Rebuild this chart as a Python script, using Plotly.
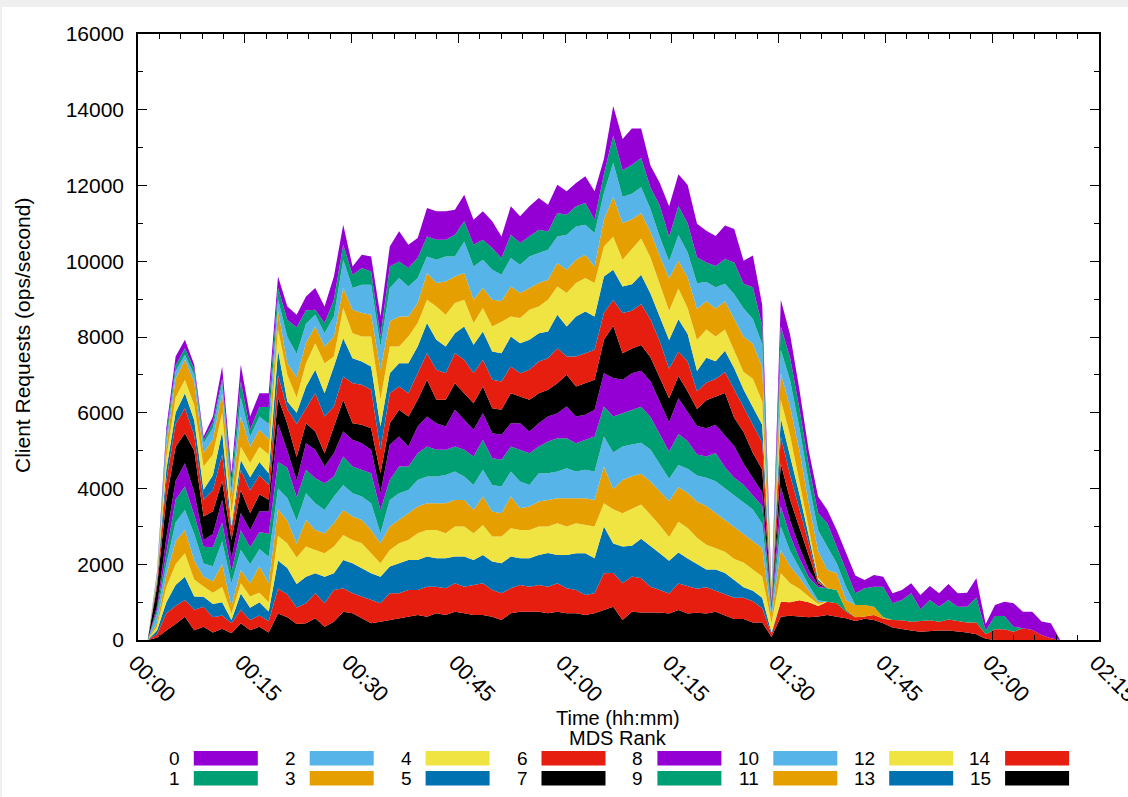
import plotly.graph_objects as go

# sample times (minutes since 00:00)
minutes = [1.36, 2.67, 3.98, 5.28, 6.59, 7.90, 9.21, 10.52, 11.82, 13.13,
           14.44, 15.75, 17.06, 18.36, 19.67, 20.98, 22.29, 23.60, 24.90, 26.21,
           27.52, 28.83, 30.14, 31.44, 32.75, 34.06, 35.37, 36.68, 37.98, 39.29,
           40.60, 41.91, 43.22, 44.52, 45.83, 47.14, 48.45, 49.76, 51.06, 52.37,
           53.68, 54.99, 56.30, 57.60, 58.91, 60.22, 61.53, 62.84, 64.14, 65.45,
           66.76, 68.07, 69.38, 70.68, 71.99, 73.30, 74.61, 75.92, 77.22, 78.53,
           79.84, 81.15, 82.46, 83.76, 85.07, 86.38, 87.69, 89.00, 90.30, 91.61,
           92.92, 94.23, 95.54, 96.84, 98.15, 99.46, 100.77, 102.08, 103.38, 104.69,
           106.00, 107.31, 108.62, 109.92, 111.23, 112.54, 113.85, 115.16, 116.46, 117.77,
           119.08, 120.39, 121.70, 123.00, 124.31, 125.62, 126.93, 128.24, 129.54]

# stacked level (ops/s) reached at the top of each MDS rank band: ranks 15..r summed
stack_top_rank15 = [0, 60, 250, 420, 616, 260, 350, 200, 300, 180,
                    440, 260, 350, 200, 700, 600, 420, 440, 572, 352,
                    484, 749, 705, 572, 440, 484, 528, 572, 616, 661,
                    616, 705, 661, 749, 705, 661, 661, 616, 528, 705,
                    749, 749, 749, 705, 749, 705, 705, 661, 705, 793,
                    880, 528, 746, 724, 724, 724, 700, 790, 700, 720,
                    697, 743, 650, 557, 557, 464, 464, 80, 616, 640,
                    620, 600, 620, 660, 616, 572, 500, 560, 528, 440,
                    330, 300, 250, 220, 240, 250, 250, 230, 200, 150,
                    30, 0, 0, 0, 0, 0, 0, 0, 0]
stack_top_rank14 = [0, 150, 700, 900, 1057, 800, 880, 600, 650, 440,
                    790, 530, 650, 500, 1350, 1200, 860, 969, 1233, 969,
                    1321, 1365, 1233, 1145, 1057, 969, 1233, 1233, 1321, 1321,
                    1409, 1409, 1365, 1497, 1409, 1453, 1497, 1321, 1233, 1365,
                    1453, 1409, 1453, 1409, 1497, 1365, 1321, 1189, 1233, 1761,
                    1770, 1497, 1674, 1632, 1405, 1317, 1230, 1490, 1420, 1350,
                    1396, 1303, 1209, 1116, 1116, 1023, 836, 150, 1013, 1000,
                    1050, 1000, 900, 1013, 969, 750, 600, 620, 660, 560,
                    530, 520, 480, 500, 520, 480, 540, 500, 460, 460,
                    150, 282, 282, 220, 308, 264, 132, 44, 0]
stack_top_rank13 = [0, 250, 1000, 1450, 1673, 1150, 1145, 950, 1000, 530,
                    1230, 850, 1000, 750, 2100, 1900, 1480, 1673, 1761, 1673,
                    1761, 2114, 2026, 1894, 1761, 1673, 1938, 2026, 2114, 2114,
                    2202, 2158, 2158, 2202, 2202, 2114, 2246, 2070, 2026, 2202,
                    2158, 2158, 2246, 2300, 2246, 2246, 2290, 2290, 2158, 2994,
                    2550, 2466, 2487, 2671, 2490, 2288, 2090, 2310, 2150, 2000,
                    1861, 1861, 1768, 1582, 1396, 1303, 1116, 200, 1013, 1000,
                    1050, 1000, 900, 1013, 969, 750, 600, 620, 660, 560,
                    530, 520, 480, 500, 520, 480, 540, 500, 460, 460,
                    150, 282, 282, 220, 308, 264, 132, 44, 0]
stack_top_rank12 = [0, 350, 1400, 2000, 2290, 1600, 1410, 1250, 1400, 700,
                    1500, 1150, 1250, 1000, 2750, 2550, 2180, 2466, 2378, 2290,
                    2466, 2774, 2642, 2554, 2290, 2026, 2378, 2554, 2642, 2818,
                    2906, 2906, 2818, 2994, 2994, 2818, 3038, 2730, 2730, 2950,
                    2906, 2906, 2994, 2994, 3082, 2994, 3082, 3038, 2994, 3611,
                    3450, 3347, 3465, 3580, 3305, 3033, 2720, 3120, 2960, 2700,
                    2513, 2420, 2327, 2141, 2048, 1861, 1675, 450, 1761, 1500,
                    1350, 1150, 950, 1013, 969, 750, 600, 620, 660, 560,
                    530, 520, 480, 500, 520, 480, 540, 500, 460, 460,
                    150, 282, 282, 220, 308, 264, 132, 44, 0]
stack_top_rank11 = [0, 450, 1700, 2600, 2906, 2100, 1670, 1550, 2000, 900,
                    1850, 1500, 1950, 1500, 3450, 3150, 2540, 3171, 2906, 2818,
                    3082, 3435, 3259, 3171, 2906, 2554, 2994, 3171, 3347, 3523,
                    3611, 3611, 3611, 3699, 3699, 3435, 3787, 3391, 3347, 3787,
                    3479, 3523, 3655, 3699, 3743, 3743, 3743, 3743, 3699, 4580,
                    3980, 4227, 4324, 4392, 4186, 3936, 3670, 4030, 3880, 3650,
                    3538, 3352, 3166, 2979, 2793, 2607, 2420, 600, 2378, 1950,
                    1650, 1300, 1000, 1013, 969, 750, 600, 620, 660, 560,
                    530, 520, 480, 500, 520, 480, 540, 500, 460, 460,
                    150, 282, 282, 220, 308, 264, 132, 44, 0]
stack_top_rank10 = [0, 700, 2000, 3100, 3435, 2800, 2020, 1950, 2600, 1500,
                    2380, 2000, 2400, 2200, 4000, 3750, 3150, 3875, 3611, 3435,
                    3787, 4095, 3875, 3787, 3611, 2818, 3699, 3875, 3963, 4227,
                    4315, 4315, 4359, 4447, 4315, 4095, 4492, 4095, 4051, 4447,
                    4183, 4095, 4404, 4404, 4447, 4536, 4447, 4492, 4447, 5372,
                    4950, 5108, 5162, 5208, 5027, 4641, 4260, 4620, 4520, 4340,
                    4283, 4190, 4004, 3818, 3631, 3445, 3072, 750, 2994, 2350,
                    1900, 1450, 1050, 1013, 969, 750, 600, 620, 660, 560,
                    530, 520, 480, 500, 520, 480, 540, 500, 460, 460,
                    150, 282, 282, 220, 308, 264, 132, 44, 0]
stack_top_rank9 = [0, 800, 2300, 3700, 4051, 3300, 2460, 2450, 3100, 1800,
                   2900, 2450, 2850, 2800, 4700, 4550, 3770, 4492, 4271, 4139,
                   4315, 4844, 4580, 4492, 4404, 3435, 4227, 4580, 4580, 4932,
                   5108, 5020, 5020, 5108, 5020, 4844, 5284, 4800, 4756, 5108,
                   5020, 4932, 5108, 5240, 5328, 5328, 5196, 5284, 5372, 6165,
                   5900, 5989, 6068, 6161, 5886, 5433, 4980, 5440, 5250, 4900,
                   4842, 4936, 4563, 4283, 4097, 3818, 3538, 820, 3523, 2750,
                   2150, 1650, 1400, 1365, 1321, 793, 600, 620, 660, 560,
                   530, 520, 480, 500, 520, 480, 540, 500, 460, 460,
                   150, 282, 282, 220, 308, 264, 132, 44, 0]
stack_top_rank8 = [0, 900, 2700, 4200, 4668, 3900, 2640, 2800, 3700, 2150,
                   3350, 2900, 3400, 3400, 5700, 5000, 4210, 5196, 5020, 4580,
                   4932, 5504, 5284, 5196, 5020, 3875, 5152, 5372, 5108, 5636,
                   5901, 5725, 5636, 6077, 5813, 5548, 5989, 5460, 5416, 5725,
                   5725, 5504, 5725, 5901, 5989, 6165, 5901, 5945, 6077, 7046,
                   6920, 6869, 7040, 7106, 6834, 6290, 5750, 6380, 6030, 5650,
                   5588, 5681, 5402, 5122, 4656, 4283, 3900, 880, 4051, 3150,
                   2450, 1850, 1450, 1365, 1321, 793, 600, 620, 660, 560,
                   530, 520, 480, 500, 520, 480, 540, 500, 460, 460,
                   150, 282, 282, 220, 308, 264, 132, 44, 0]
stack_top_rank7 = [0, 1400, 3700, 5100, 5460, 5000, 3260, 3400, 4200, 2640,
                   3960, 3350, 3850, 3700, 6400, 5700, 4830, 5725, 5504, 4932,
                   5636, 6341, 5725, 5680, 5592, 4404, 5725, 6077, 5901, 6341,
                   6869, 6341, 6341, 6781, 6517, 6253, 6693, 6121, 6077, 6517,
                   6429, 6341, 6517, 6605, 6781, 7002, 6693, 6781, 6869, 7926,
                   8300, 7574, 7696, 7786, 7468, 6925, 6380, 6970, 6560, 6100,
                   6333, 6426, 6519, 5867, 5495, 4936, 4500, 950, 4668, 3700,
                   2950, 2250, 1500, 1365, 1321, 793, 600, 620, 660, 560,
                   530, 520, 480, 500, 520, 480, 540, 500, 460, 460,
                   150, 282, 282, 220, 308, 264, 132, 44, 0]
stack_top_rank6 = [0, 1500, 4200, 5700, 6121, 5400, 3700, 3950, 4900, 2900,
                   4490, 3950, 4350, 4100, 7000, 6100, 5700, 6121, 6517, 5901,
                   6165, 6958, 6781, 6737, 6605, 5020, 6517, 6693, 6517, 7046,
                   7574, 7134, 7046, 7574, 7398, 7046, 7398, 6869, 6825, 7222,
                   7046, 7134, 7354, 7442, 7706, 7486, 7486, 7574, 7662, 8631,
                   8980, 8631, 8690, 8874, 8468, 7880, 7160, 7610, 7350, 6560,
                   6799, 6892, 7078, 6612, 6147, 5681, 5215, 1010, 5372, 4350,
                   3450, 2550, 1550, 1365, 1321, 793, 600, 620, 660, 560,
                   530, 520, 480, 500, 520, 480, 540, 500, 460, 460,
                   150, 282, 282, 220, 308, 264, 132, 44, 0]
stack_top_rank5 = [0, 1580, 4500, 6000, 6517, 5800, 3970, 4350, 5500, 3000,
                   4750, 4300, 4700, 4400, 7650, 6300, 6000, 6693, 7134, 6517,
                   7222, 7970, 7442, 7354, 7222, 5636, 7046, 7310, 7310, 7750,
                   8367, 7926, 7750, 8102, 8279, 7794, 8146, 7618, 7574, 8014,
                   7838, 7926, 8102, 8146, 8587, 8279, 8543, 8675, 8543, 9600,
                   9775, 9335, 9391, 9643, 9146, 8535, 7920, 8470, 8080, 7100,
                   7451, 7358, 7637, 7172, 6612, 6147, 5681, 1060, 5857, 4850,
                   3850, 2750, 1600, 1365, 1321, 793, 600, 620, 660, 560,
                   530, 520, 480, 500, 520, 480, 540, 500, 460, 460,
                   150, 282, 282, 220, 308, 264, 132, 44, 0]
stack_top_rank4 = [0, 1650, 4800, 6400, 6869, 6200, 4580, 4900, 6000, 3350,
                   5100, 4670, 5100, 4900, 8200, 7000, 6400, 7310, 7838, 7310,
                   7486, 8763, 8102, 8014, 8014, 6341, 7750, 7750, 8014, 8367,
                   8983, 8807, 8587, 8895, 8983, 8367, 8763, 8279, 8400, 8543,
                   8499, 8719, 8807, 8983, 9335, 9159, 9424, 9556, 9424, 10392,
                   10650, 10040, 10324, 10598, 10101, 9395, 8690, 9280, 8760, 7920,
                   8196, 8010, 8200, 7637, 7078, 6900, 6300, 1110, 6341, 5400,
                   4200, 2950, 1650, 1365, 1321, 793, 600, 620, 660, 560,
                   530, 520, 480, 500, 520, 480, 540, 500, 460, 460,
                   150, 282, 282, 220, 308, 264, 132, 44, 0]
stack_top_rank3 = [0, 1700, 5100, 6900, 7398, 6800, 4932, 5300, 6500, 3700,
                   5900, 5100, 5550, 5300, 8700, 7300, 6940, 7850, 8279, 7750,
                   8014, 9291, 8719, 8631, 8587, 7134, 8411, 8543, 8543, 8895,
                   9688, 9424, 9468, 9600, 9688, 8983, 9291, 8983, 8950, 9335,
                   9159, 9291, 9424, 9512, 9952, 9776, 10040, 10172, 9864, 11097,
                   11700, 11009, 11112, 11274, 10777, 10140, 9550, 10010, 9570, 8740,
                   8941, 8755, 8941, 8476, 8010, 7823, 7200, 1160, 7046, 6150,
                   5000, 3600, 2350, 1850, 1761, 1057, 925, 925, 881, 600,
                   530, 520, 480, 500, 520, 480, 540, 500, 460, 460,
                   150, 282, 282, 220, 308, 264, 132, 44, 0]
stack_top_rank2 = [0, 1740, 5300, 7100, 7530, 7000, 5195, 5600, 6800, 3950,
                   6400, 5370, 5900, 5700, 9000, 8000, 7560, 8350, 8587, 8102,
                   8543, 10040, 9291, 9379, 9379, 7750, 9291, 9556, 9335, 9556,
                   10128, 10040, 10128, 10128, 10524, 9864, 10040, 9776, 9644, 10084,
                   9908, 10128, 10216, 10304, 10656, 10700, 10920, 10964, 10744, 11800,
                   12600, 11700, 11785, 11954, 11378, 10640, 10000, 10690, 10230, 9420,
                   9454, 9314, 9407, 9128, 8755, 8476, 7800, 1210, 7662, 6850,
                   5600, 4150, 2900, 2466, 2026, 1409, 925, 925, 881, 600,
                   530, 520, 480, 500, 520, 480, 540, 500, 460, 460,
                   150, 282, 282, 220, 308, 264, 132, 44, 0]
stack_top_rank1 = [0, 1770, 5450, 7250, 7706, 7150, 5280, 5750, 6900, 4200,
                   6830, 5550, 6150, 6150, 9300, 8450, 8260, 8700, 8719, 8367,
                   8983, 10436, 9644, 9820, 9732, 8014, 9864, 9996, 9820, 10084,
                   10656, 10568, 10568, 10700, 11053, 10436, 10568, 10348, 10084, 10700,
                   10480, 10656, 10832, 10788, 11273, 11229, 11449, 11537, 11097, 12300,
                   13320, 12400, 12538, 12727, 11950, 11475, 10650, 11460, 11000, 10100,
                   9966, 9873, 10059, 9966, 9407, 9314, 8300, 1260, 8279, 7450,
                   6100, 4600, 3350, 3082, 2466, 1850, 1233, 1365, 1409, 1409,
                   969, 1057, 1233, 810, 1057, 881, 1057, 881, 881, 1120,
                   250, 634, 634, 352, 308, 264, 132, 44, 0]
stack_top_rank0 = [0, 1800, 5600, 7486, 7926, 7265, 5371, 5900, 7221, 4404,
                   7265, 5900, 6518, 6518, 9600, 8806, 8587, 9070, 9291, 8807,
                   9600, 10965, 9864, 10172, 10128, 8543, 10392, 10789, 10436, 10612,
                   11405, 11317, 11317, 11361, 11757, 11097, 11317, 11053, 10656, 11449,
                   11185, 11449, 11669, 11493, 12021, 11845, 12066, 12242, 11845, 12700,
                   14100, 13226, 13506, 13506, 12528, 12063, 11455, 12296, 12016, 10991,
                   10806, 10666, 10943, 10851, 10013, 10153, 8848, 1300, 8983, 8058,
                   6605, 5000, 3786, 3435, 2906, 2290, 1700, 1585, 1717, 1673,
                   1233, 1321, 1497, 1189, 1427, 1233, 1480, 1233, 1250, 1630,
                   420, 925, 1013, 969, 749, 749, 487, 440, 0]

mds_ranks = list(range(16))
tick_minutes = [0, 15, 30, 45, 60, 75, 90, 105, 120, 135]
tick_labels = ["00:00", "00:15", "00:30", "00:45", "01:00",
               "01:15", "01:30", "01:45", "02:00", "02:15"]
y_ticks = [0, 2000, 4000, 6000, 8000, 10000, 12000, 14000, 16000]

stack_tops = {
    0: stack_top_rank0, 1: stack_top_rank1, 2: stack_top_rank2, 3: stack_top_rank3,
    4: stack_top_rank4, 5: stack_top_rank5, 6: stack_top_rank6, 7: stack_top_rank7,
    8: stack_top_rank8, 9: stack_top_rank9, 10: stack_top_rank10, 11: stack_top_rank11,
    12: stack_top_rank12, 13: stack_top_rank13, 14: stack_top_rank14, 15: stack_top_rank15,
}

palette = ["#9400d3", "#009e73", "#56b4e9", "#e69f00",
           "#f0e442", "#0072b2", "#e51e10", "#000000"]


def color_of(rank):
    return palette[rank % 8]


FONT = "Liberation Sans, Arial, sans-serif"
W, H = 1128, 797
PL, PR, PT, PB = 138, 29, 34, 157
PW, PH = W - PL - PR, H - PT - PB


def fx(px):
    return (px - PL) / PW


def fy(py):
    return (H - PB - py) / PH


fig = go.Figure()
for rank in sorted(mds_ranks, reverse=True):
    c = color_of(rank)
    fig.add_trace(go.Scatter(
        x=minutes, y=stack_tops[rank], mode="lines",
        line=dict(width=0, color=c),
        fill="tozeroy" if rank == 15 else "tonexty",
        fillcolor=c, name=str(rank), showlegend=False, hoverinfo="skip",
    ))

shapes = []
annotations = []

# page border (light grey) like the reference screenshot
shapes.append(dict(type="rect", xref="paper", yref="paper",
                   x0=fx(0), x1=fx(W), y0=fy(7), y1=fy(0),
                   fillcolor="#efefef", line=dict(width=0), layer="above"))
shapes.append(dict(type="rect", xref="paper", yref="paper",
                   x0=fx(0), x1=fx(2), y0=fy(H), y1=fy(0),
                   fillcolor="#efefef", line=dict(width=0), layer="above"))

# custom legend: two rows, label left of swatch
for k in range(8):
    for row in range(2):
        rank = 2 * k + row
        sx0 = 193.8 + 115.9 * k
        sy0 = 751 + 20 * row
        shapes.append(dict(type="rect", xref="paper", yref="paper",
                           x0=fx(sx0), x1=fx(sx0 + 64), y0=fy(sy0 + 14.5), y1=fy(sy0),
                           fillcolor=color_of(rank), line=dict(width=0)))
        annotations.append(dict(xref="paper", yref="paper", x=fx(sx0 - 12), y=fy(sy0 + 7.5),
                                text=str(rank), showarrow=False, xanchor="right",
                                yanchor="middle", font=dict(family=FONT, size=19, color="black")))

# x tick labels, rotated, placed under their ticks (data x via axis ref)
for tm, tl in zip(tick_minutes, tick_labels):
    annotations.append(dict(xref="x", yref="paper", x=tm, y=fy(647),
                            xshift=-17, text=tl, showarrow=False, textangle=45,
                            xanchor="left", yanchor="top",
                            font=dict(family=FONT, size=22, color="black")))

annotations.append(dict(xref="paper", yref="paper", x=fx(618), y=fy(718),
                        text="Time (hh:mm)", showarrow=False, xanchor="center",
                        yanchor="middle", font=dict(family=FONT, size=20, color="black")))
annotations.append(dict(xref="paper", yref="paper", x=fx(618), y=fy(738),
                        text="MDS Rank", showarrow=False, xanchor="center",
                        yanchor="middle", font=dict(family=FONT, size=20, color="black")))
annotations.append(dict(xref="paper", yref="paper", x=fx(22), y=fy(336),
                        text="Client Requests (ops/second)", showarrow=False, textangle=-90,
                        xanchor="center", yanchor="middle",
                        font=dict(family=FONT, size=21, color="black")))

axis_common = dict(showline=True, linecolor="black", linewidth=1.5, mirror="ticks",
                   ticks="inside", ticklen=9, tickwidth=1, tickcolor="black",
                   showgrid=False, zeroline=False,
                   tickfont=dict(family=FONT, size=21, color="black"))

fig.update_layout(
    width=W, height=H,
    margin=dict(l=PL, r=PR, t=PT, b=PB, pad=0),
    paper_bgcolor="white", plot_bgcolor="white",
    shapes=shapes, annotations=annotations,
    xaxis=dict(range=[0, 135], tickvals=tick_minutes, showticklabels=False,
               minor=dict(dtick=3, tick0=0, ticks="inside", ticklen=5, tickcolor="black", showgrid=False),
               **axis_common),
    yaxis=dict(range=[0, 16000], tickvals=y_ticks, tickformat="d", ticklabelstandoff=8,
               minor=dict(dtick=1000, tick0=0, ticks="inside", ticklen=5, tickcolor="black", showgrid=False),
               **axis_common),
)

fig.write_html("out.html", config={"responsive": False})
